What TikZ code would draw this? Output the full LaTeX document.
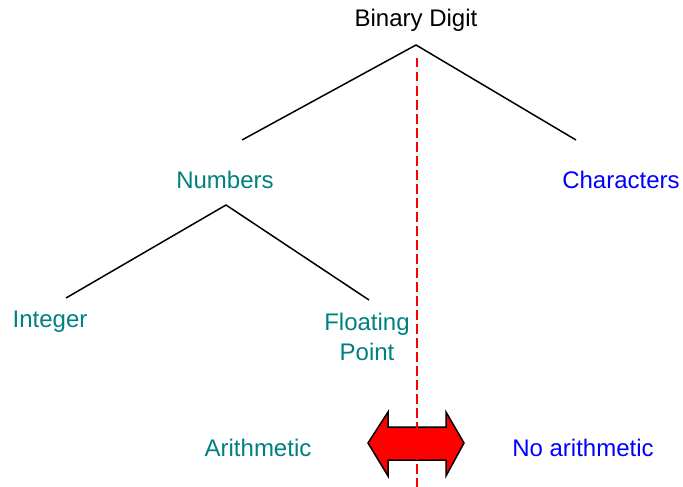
\documentclass[tikz,border=0pt]{standalone}
\usepackage{fontspec}
\setmainfont{Liberation Sans}
\definecolor{tealtxt}{RGB}{0,128,128}
\definecolor{bluetxt}{RGB}{0,0,255}
\begin{document}
\begin{tikzpicture}[x=1pt,y=-1pt,
  lbl/.style={font=\fontsize{24}{30}\selectfont, inner sep=0pt, align=center},
  tealt/.style={lbl, text=tealtxt},
  bluet/.style={lbl, text=bluetxt},
  tree/.style={draw=black, line width=1.5pt},
  divider/.style={draw=red, line width=1.6pt, dash pattern=on 9.5pt off 4.5pt},
  dblarrow/.style={draw=black, fill=red, line width=1.5pt, line join=miter}]
\useasboundingbox (0,0) rectangle (683,487);
% text nodes
\node[lbl] (bd) at (416,20) {Binary Digit};
\node[tealt] (num) at (225,180) {Numbers};
\node[bluet] (chr) at (621,180) {Characters};
\node[tealt] (int) at (50,322) {Integer};
\node[tealt] (flt) at (367,337) {Floating\\Point};
\node[tealt] (ari) at (258,448) {Arithmetic};
\node[bluet] (noa) at (583,448) {No arithmetic};
% tree coordinates
\coordinate (apex1) at (416,45);
\coordinate (l1) at (242,140);
\coordinate (r1) at (576,140);
\coordinate (apex2) at (226,205);
\coordinate (l2) at (66,298);
\coordinate (r2) at (369,300);
\draw[tree] (l1) -- (apex1) -- (r1);
\draw[tree] (l2) -- (apex2) -- (r2);
% double arrow
\draw[dblarrow] (368,443) -- (388,412) -- (388,427) -- (446,427) -- (446,412)
  -- (464,443) -- (446,476) -- (446,460) -- (388,460) -- (388,476) -- cycle;
% divider
\coordinate (dtop) at (417,58);
\coordinate (dbot) at (417,487);
\draw[divider] (dtop) -- (dbot);
\end{tikzpicture}
\end{document}
